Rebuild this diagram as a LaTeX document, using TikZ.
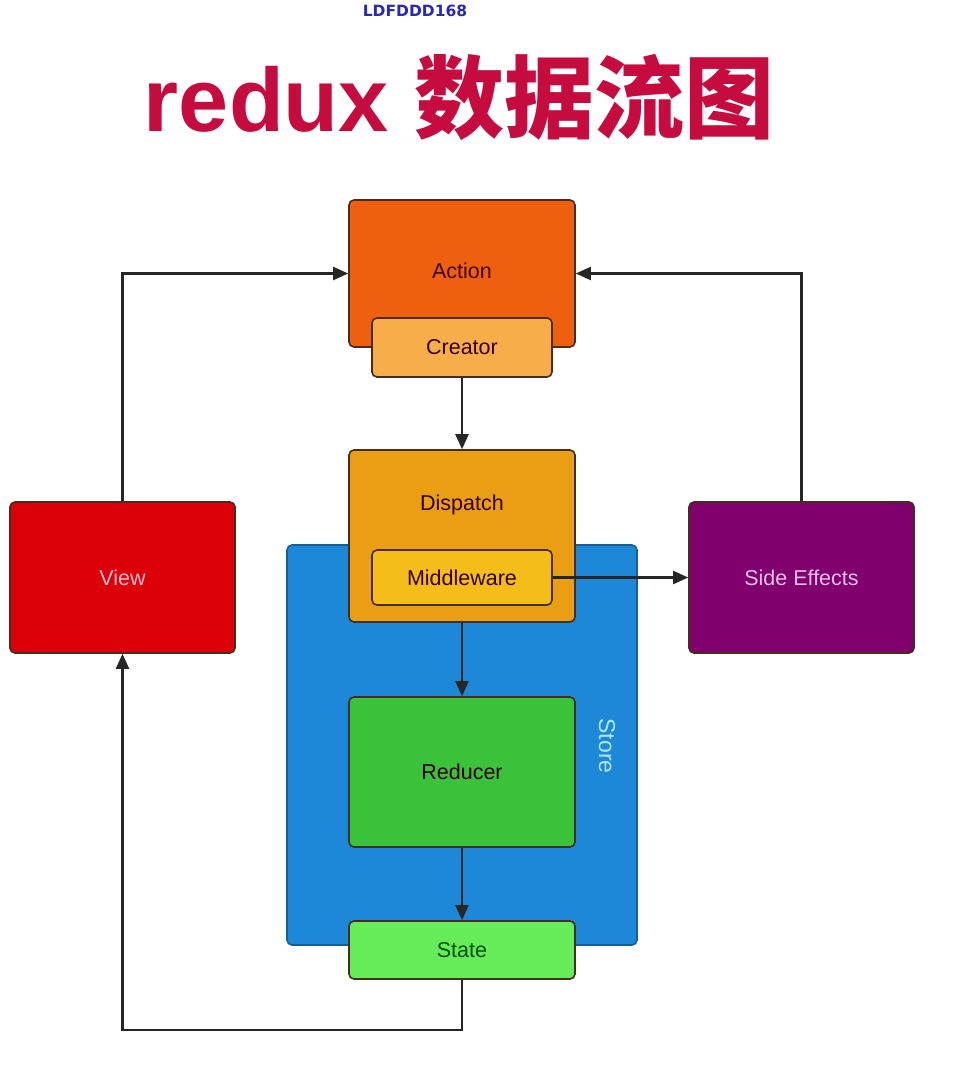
\documentclass[tikz,border=0pt]{standalone}
\usepackage{fontspec}
\setmainfont{Liberation Sans}
\newfontfamily\cjk{Noto Sans CJK SC}
\newfontfamily\markfont{DejaVu Sans}
\usetikzlibrary{arrows.meta}
\definecolor{actionc}{RGB}{238,95,16}
\definecolor{creatorc}{RGB}{247,174,74}
\definecolor{dispatchc}{RGB}{233,158,19}
\definecolor{middlec}{RGB}{245,189,26}
\definecolor{storec}{RGB}{30,136,216}
\definecolor{reducerc}{RGB}{57,194,58}
\definecolor{statec}{RGB}{102,236,88}
\definecolor{viewc}{RGB}{220,0,8}
\definecolor{sidec}{RGB}{128,0,110}
\definecolor{titlec}{RGB}{198,12,62}
\definecolor{markc}{RGB}{40,40,190}
\definecolor{edgec}{RGB}{70,45,30}
\tikzset{
  box/.style={draw=edgec, line width=1.6pt, rounded corners=5pt, inner sep=0pt},
  lbl/.style={font=\fontsize{21.5}{24}\selectfont, text=black!80!red},
  link/.style={line width=2.2pt, draw=black!85, -{Triangle[length=15pt,width=13pt]}}
}
\begin{document}
\begin{tikzpicture}[x=1pt,y=-1pt]
\useasboundingbox (0,0) rectangle (956,1080);
%Title
\node at (415,11) (mark) {\markfont\bfseries\fontsize{15.5}{16}\selectfont\color{markc}LDFDDD168};
\node at (459,97) (title) {\fontsize{90}{94}\selectfont\color{titlec}\bfseries redux {\cjk 数据流图}};

%Nodes
\node[box, draw=storec!70!black, fill=storec, minimum width=350, minimum height=400] at (462,745) (store) {};
\node[rotate=-90, font=\fontsize{23}{24}\selectfont, text={rgb,255:red,175;green,232;blue,250}] at (607,746) (storetxt) {Store};
\node[box, fill=actionc, minimum width=226, minimum height=147] at (462,273.5) (action) {};
\node[lbl, text=black!75!red] at (462,271) (actiontxt) {Action};
\node[box, fill=creatorc, minimum width=180, minimum height=59, lbl] at (462,347.5) (creator) {Creator};
\node[box, fill=dispatchc, minimum width=226, minimum height=172] at (462,536) (dispatch) {};
\node[lbl] at (462,505) (dispatchtxt) {Dispatch};
\node[box, fill=middlec, minimum width=180, minimum height=55, lbl] at (462,577.5) (middle) {Middleware};
\node[box, fill=reducerc, minimum width=226, minimum height=150, lbl] at (462,772) (reducer) {Reducer};
\node[box, fill=statec, minimum width=226, minimum height=58, lbl, text=black!70!green] at (462,950) (state) {State};
\node[box, fill=viewc, minimum width=225, minimum height=151, lbl, text={rgb,255:red,245;green,190;blue,210}] at (122.5,577.5) (view) {View};
\node[box, fill=sidec, minimum width=225, minimum height=151, lbl, text={rgb,255:red,235;green,190;blue,230}] at (801.5,577.5) (side) {Side Effects};
\coordinate (c1) at (462,1030);

%Lines
\draw[link] (view.north) |- (action.west);
\draw[link] (side.north) |- (action.east);
\draw[link] (creator.south) -- (dispatch.north);
\draw[link] (middle.east) -- (side.west);
\draw[link] (dispatch.south) -- (reducer.north);
\draw[link] (reducer.south) -- (state.north);
\draw[link] (state.south) -- (c1) -| (view.south);
\end{tikzpicture}
\end{document}
